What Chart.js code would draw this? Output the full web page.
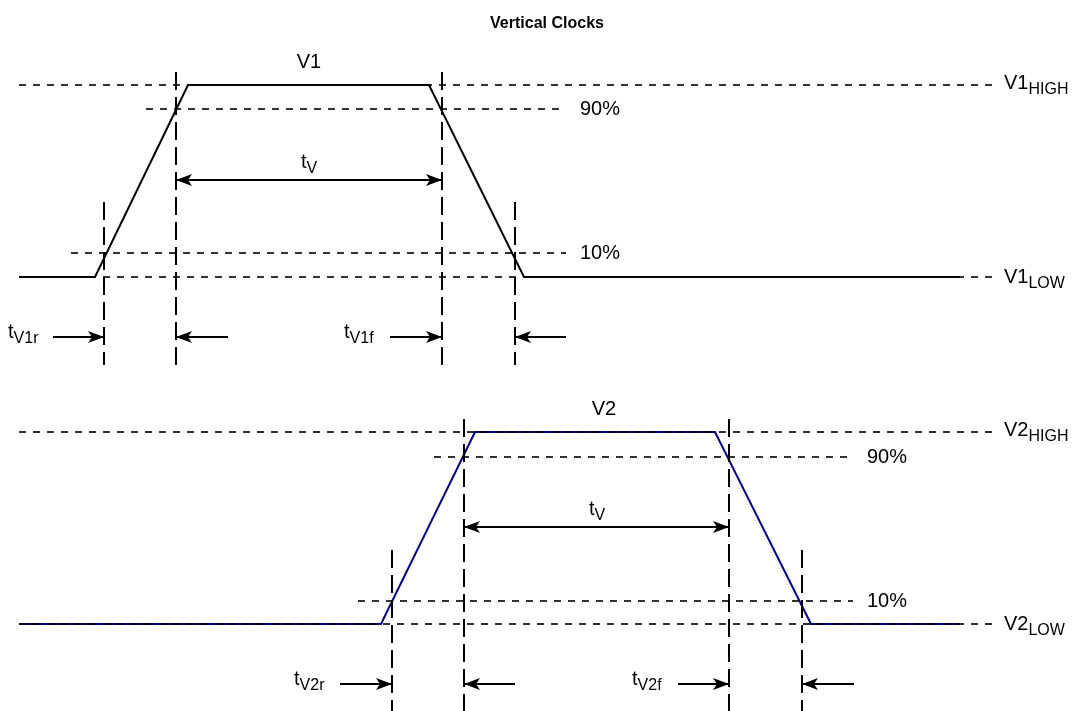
<!DOCTYPE html>
<html>
<head>
<meta charset="utf-8">
<script src="https://cdn.jsdelivr.net/npm/chart.js@4/dist/chart.umd.min.js"></script>
<style>
  body { margin: 0; background: #fff; }
  #diagrama { display: block; }
</style>
</head>
<body>
<canvas id="diagrama" width="1086" height="711"></canvas>
<script>
// time / level data for the two clocks (diagram units)
const v1Tiempos = [19, 95, 188, 429, 524, 960];
const v1Niveles = [277, 277, 85, 85, 277, 277];
const v2Tiempos = [19, 381, 475, 715, 811, 960];
const v2Niveles = [624, 624, 432, 432, 624, 624];

// reference levels: [from, to, level]
const guiasNivel = [
  [19, 993, 85], [146, 566, 109], [71, 566, 253], [19, 993, 277],
  [19, 993, 432], [434, 853, 457], [358, 853, 601], [19, 993, 624],
];

// time markers: [time, from, to]
const marcasTiempo = [
  [104, 202, 365], [176, 72, 365], [442, 72, 365], [515, 202, 365],
  [392, 550, 711], [464, 419, 711], [729, 419, 711], [802, 550, 711],
];

// arrows: [from, to, level, double]
const flechas = [
  [176, 442, 180, true],
  [53, 104, 337, false], [228, 176, 337, false], [390, 442, 337, false], [566, 515, 337, false],
  [464, 729, 527, true],
  [340, 392, 684, false], [515, 464, 684, false], [678, 729, 684, false], [854, 802, 684, false],
];

// labels: [text, subscript, x, y, align]
const etiquetas = [
  ["V1", "", 309, 62, "center"],
  ["V2", "", 604, 409, "center"],
  ["t", "V", 309, 162, "center"],
  ["t", "V", 597, 509, "center"],
  ["90%", "", 580, 109, "left"],
  ["10%", "", 580, 253, "left"],
  ["90%", "", 867, 457, "left"],
  ["10%", "", 867, 601, "left"],
  ["V1", "HIGH", 1004, 83, "left"],
  ["V1", "LOW", 1004, 277, "left"],
  ["V2", "HIGH", 1004, 430, "left"],
  ["V2", "LOW", 1004, 624, "left"],
  ["t", "V1r", 8, 332, "left"],
  ["t", "V1f", 344, 332, "left"],
  ["t", "V2r", 294, 679, "left"],
  ["t", "V2f", 632, 679, "left"],
];

const titulo = "Vertical Clocks";

const armarSerie = (tiempos, niveles) => tiempos.map((t, i) => ({ x: t, y: niveles[i] }));

const datasets = [];

for (const g of guiasNivel) {
  datasets.push({
    data: [{ x: g[0], y: g[2] }, { x: g[1], y: g[2] }],
    borderColor: "#000",
    borderWidth: 1.6,
    borderDash: [7, 7],
  });
}

for (const m of marcasTiempo) {
  datasets.push({
    data: [{ x: m[0], y: m[1] }, { x: m[0], y: m[2] }],
    borderColor: "#000",
    borderWidth: 2,
    borderDash: [18, 7],
  });
}

for (const f of flechas) {
  datasets.push({
    data: [{ x: f[0], y: f[2] }, { x: f[1], y: f[2] }],
    borderColor: "#000",
    borderWidth: 2,
  });
}

datasets.push({ data: armarSerie(v1Tiempos, v1Niveles), borderColor: "#000", borderWidth: 2 });
datasets.push({ data: armarSerie(v2Tiempos, v2Niveles), borderColor: "#000080", borderWidth: 2 });

const dibujarPunta = (ctx, x, y, dir) => {
  ctx.beginPath();
  ctx.moveTo(x, y);
  ctx.lineTo(x - dir * 16, y - 6);
  ctx.lineTo(x - dir * 12, y);
  ctx.lineTo(x - dir * 16, y + 6);
  ctx.closePath();
  ctx.fill();
};

const fuente = (px, peso) => `${peso || ""} ${px}px 'Liberation Sans', Arial, sans-serif`;

const pluginAnotaciones = {
  id: "anotaciones",
  afterDatasetsDraw(chart) {
    const ctx = chart.ctx;
    const sx = chart.scales.x;
    const sy = chart.scales.y;
    ctx.save();
    ctx.fillStyle = "#000";

    for (const f of flechas) {
      const x1 = sx.getPixelForValue(f[0]);
      const x2 = sx.getPixelForValue(f[1]);
      const y = sy.getPixelForValue(f[2]);
      const dir = x2 > x1 ? 1 : -1;
      dibujarPunta(ctx, x2, y, dir);
      if (f[3]) dibujarPunta(ctx, x1, y, -dir);
    }

    ctx.textBaseline = "middle";
    ctx.font = fuente(16, "bold");
    ctx.textAlign = "center";
    ctx.fillText(titulo, sx.getPixelForValue(547), sy.getPixelForValue(24));

    ctx.textAlign = "left";
    for (const e of etiquetas) {
      const x = sx.getPixelForValue(e[2]);
      const y = sy.getPixelForValue(e[3]);
      ctx.font = fuente(20);
      const wMain = ctx.measureText(e[0]).width;
      ctx.font = fuente(16);
      const wSub = e[1] ? ctx.measureText(e[1]).width : 0;
      const x0 = e[4] === "center" ? x - (wMain + wSub) / 2 : x;
      ctx.font = fuente(20);
      ctx.fillText(e[0], x0, y);
      if (e[1]) {
        ctx.font = fuente(16);
        ctx.fillText(e[1], x0 + wMain, y + 7);
      }
    }
    ctx.restore();
  },
};

new Chart(document.getElementById("diagrama"), {
  type: "line",
  data: { datasets: datasets },
  options: {
    responsive: false,
    animation: false,
    events: [],
    layout: { padding: 0 },
    elements: { point: { radius: 0 }, line: { tension: 0, borderCapStyle: "butt" } },
    plugins: { legend: { display: false }, tooltip: { enabled: false } },
    scales: {
      x: { type: "linear", min: 0, max: 1086, display: false },
      y: { type: "linear", min: 0, max: 711, reverse: true, display: false },
    },
  },
  plugins: [pluginAnotaciones],
});
</script>
</body>
</html>
